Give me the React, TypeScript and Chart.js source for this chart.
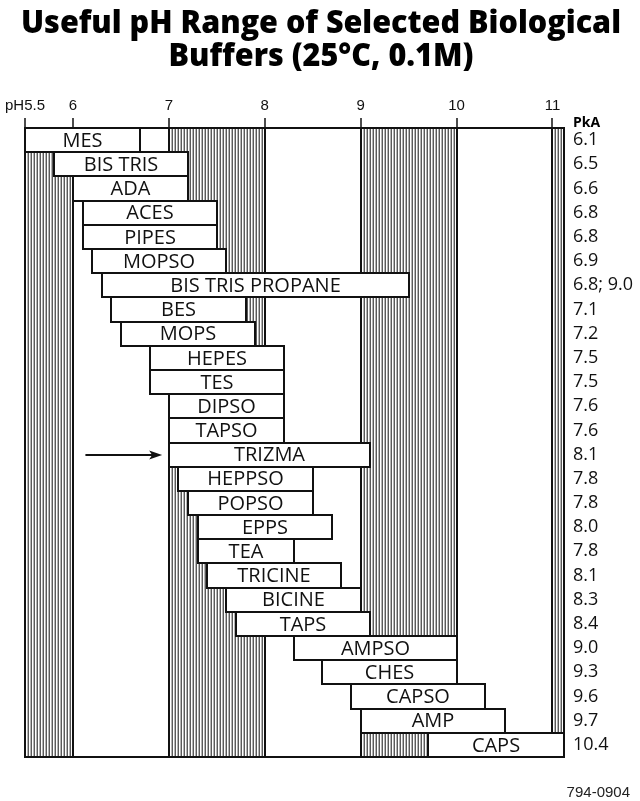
import React, { useEffect, useRef } from 'react';
import { Chart, registerables } from 'chart.js';

Chart.register(...registerables);

// ---- Data ----
const buffers = ['MES', 'BIS TRIS', 'ADA', 'ACES', 'PIPES', 'MOPSO', 'BIS TRIS PROPANE', 'BES', 'MOPS', 'HEPES', 'TES', 'DIPSO', 'TAPSO', 'TRIZMA', 'HEPPSO', 'POPSO', 'EPPS', 'TEA', 'TRICINE', 'BICINE', 'TAPS', 'AMPSO', 'CHES', 'CAPSO', 'AMP', 'CAPS'];
const rangeLow = [5.5, 5.8, 6.0, 6.1, 6.1, 6.2, 6.3, 6.4, 6.5, 6.8, 6.8, 7.0, 7.0, 7.0, 7.1, 7.2, 7.3, 7.3, 7.4, 7.6, 7.7, 8.3, 8.6, 8.9, 9.0, 9.7];
const rangeHigh = [6.7, 7.2, 7.2, 7.5, 7.5, 7.6, 9.5, 7.8, 7.9, 8.2, 8.2, 8.2, 8.2, 9.1, 8.5, 8.5, 8.7, 8.3, 8.8, 9.0, 9.1, 10.0, 10.0, 10.3, 10.5, 11.12];
const pKaLabels = ['6.1', '6.5', '6.6', '6.8', '6.8', '6.9', '6.8; 9.0', '7.1', '7.2', '7.5', '7.5', '7.6', '7.6', '8.1', '7.8', '7.8', '8.0', '7.8', '8.1', '8.3', '8.4', '9.0', '9.3', '9.6', '9.7', '10.4'];
const phTicks = [5.5, 6, 7, 8, 9, 10, 11];
const phMin = 5.5;
const phMax = 11.12;
const shadeFrom = [5.5, 7, 9, 11];
const shadeTo = [6, 8, 10, 11.12];
const arrowRow = 'TRIZMA';
const arrowFrom = 6.13;
const arrowTo = 6.93;
const titleLines = ['Useful pH Range of Selected Biological', 'Buffers (25°C, 0.1M)'];
const pkaHeader = 'PkA';
const footerText = '794-0904';

const decorPlugin = {
  id: 'bufferDecor',
  beforeDraw(chart: any) {
    const { ctx, chartArea: a, scales } = chart;
    const x = scales.x;
    ctx.save();
    shadeFrom.forEach((f, i) => {
      const x0 = Math.round(x.getPixelForValue(f));
      const x1 = Math.round(x.getPixelForValue(shadeTo[i]));
      for (let px = x0; px < x1; px++) {
        const k = (px - x0) % 3;
        ctx.fillStyle = k === 0 ? '#5a5a5a' : k === 1 ? '#ffffff' : '#b4b4b4';
        ctx.fillRect(px, a.top, 1, a.bottom - a.top);
      }
    });
    ctx.restore();
  },
  afterDatasetsDraw(chart: any) {
    const { ctx, chartArea: a, scales } = chart;
    const x = scales.x;
    const meta = chart.getDatasetMeta(0);
    ctx.save();
    // bar outlines + labels
    meta.data.forEach((el: any, i: number) => {
      const p = el.getProps(['x', 'y', 'base', 'height'], true);
      const l = Math.round(Math.min(p.x, p.base));
      const r = Math.round(Math.max(p.x, p.base));
      const t = Math.round(p.y - p.height / 2);
      const b = Math.round(p.y + p.height / 2);
      ctx.strokeStyle = '#111';
      ctx.lineWidth = 2;
      ctx.strokeRect(l, t, r - l, b - t);
      ctx.fillStyle = '#111';
      ctx.font = '20px "Open Sans"';
      ctx.textAlign = 'center';
      ctx.textBaseline = 'middle';
      ctx.fillText(buffers[i], (l + r) / 2, p.y + 1);
    });
    // frame
    ctx.strokeStyle = '#111';
    ctx.lineWidth = 2;
    ctx.strokeRect(Math.round(a.left), Math.round(a.top), Math.round(a.right - a.left), Math.round(a.bottom - a.top));
    // arrow
    const idx = buffers.indexOf(arrowRow);
    const ay = Math.round(meta.data[idx].y);
    const ax0 = x.getPixelForValue(arrowFrom);
    const ax1 = x.getPixelForValue(arrowTo);
    ctx.beginPath();
    ctx.moveTo(ax0, ay);
    ctx.lineTo(ax1 - 8, ay);
    ctx.lineWidth = 2;
    ctx.stroke();
    ctx.beginPath();
    ctx.moveTo(ax1, ay);
    ctx.lineTo(ax1 - 13, ay - 4.5);
    ctx.lineTo(ax1 - 10, ay);
    ctx.lineTo(ax1 - 13, ay + 4.5);
    ctx.closePath();
    ctx.fill();
    ctx.restore();
  },
  afterDraw(chart: any) {
    const { ctx, chartArea: a, width } = chart;
    ctx.save();
    // title, slightly condensed like the original face
    ctx.fillStyle = '#000';
    ctx.font = '800 32px "Open Sans"';
    ctx.textAlign = 'center';
    ctx.textBaseline = 'alphabetic';
    const w = ctx.measureText(titleLines[0]).width;
    const sx = 600 / w;
    const baselines = [33, 66];
    titleLines.forEach((line, i) => {
      ctx.save();
      ctx.translate(321, baselines[i]);
      ctx.scale(sx, 1);
      ctx.fillText(line, 0, 0);
      ctx.restore();
    });
    // PkA header
    ctx.font = 'bold 14px "Open Sans"';
    ctx.textAlign = 'left';
    ctx.fillText(pkaHeader, a.right + 9, a.top - 1);
    // footer
    ctx.font = '15px "Liberation Sans"';
    ctx.textAlign = 'right';
    ctx.fillStyle = '#222';
    ctx.fillText(footerText, width - 10, 797);
    ctx.restore();
  },
};

export default function App() {
  const ref = useRef<HTMLCanvasElement | null>(null);
  useEffect(() => {
    if (!ref.current) return;
    const chart = new Chart(ref.current, {
      type: 'bar',
      data: {
        labels: buffers,
        datasets: [
          {
            data: rangeLow.map((l, i) => [l, rangeHigh[i]]) as any,
            backgroundColor: '#ffffff',
            borderWidth: 0,
            barPercentage: 1,
            categoryPercentage: 1,
            yAxisID: 'y',
          },
        ],
      },
      options: {
        indexAxis: 'y',
        animation: false,
        responsive: false,
        devicePixelRatio: 1,
        layout: { padding: { top: 70, left: 25, right: 0, bottom: 44 } },
        plugins: { legend: { display: false }, tooltip: { enabled: false }, title: { display: false } },
        scales: {
          x: {
            type: 'linear',
            position: 'top',
            min: phMin,
            max: phMax,
            afterBuildTicks: (s: any) => {
              s.ticks = phTicks.map((v) => ({ value: v }));
            },
            afterFit: (s: any) => {
              s.height = 58;
            },
            ticks: {
              callback: (v: any) => (v === 5.5 ? 'pH5.5' : String(v)),
              font: { family: 'Liberation Sans', size: 15 },
              color: '#111',
              padding: 3,
              autoSkip: false,
              maxRotation: 0,
            },
            grid: { color: '#111', lineWidth: 2, drawTicks: true, tickLength: 10, tickColor: '#111', tickWidth: 1.5 },
            border: { display: false },
          },
          y: { display: false },
          y2: {
            type: 'category',
            position: 'right',
            labels: pKaLabels,
            offset: true,
            grid: { display: false, drawTicks: false },
            border: { display: false },
            ticks: { font: { family: 'Open Sans', size: 18 }, color: '#111', padding: 9, autoSkip: false },
            afterFit: (s: any) => {
              s.width = 76;
            },
          },
        },
      } as any,
      plugins: [decorPlugin],
    });
    return () => chart.destroy();
  }, []);
  return (
    <div style={{ position: 'absolute', left: 0, top: 0, width: 640, height: 801, background: '#fff' }}>
      <canvas ref={ref} width={640} height={801} style={{ display: 'block' }} />
    </div>
  );
}
